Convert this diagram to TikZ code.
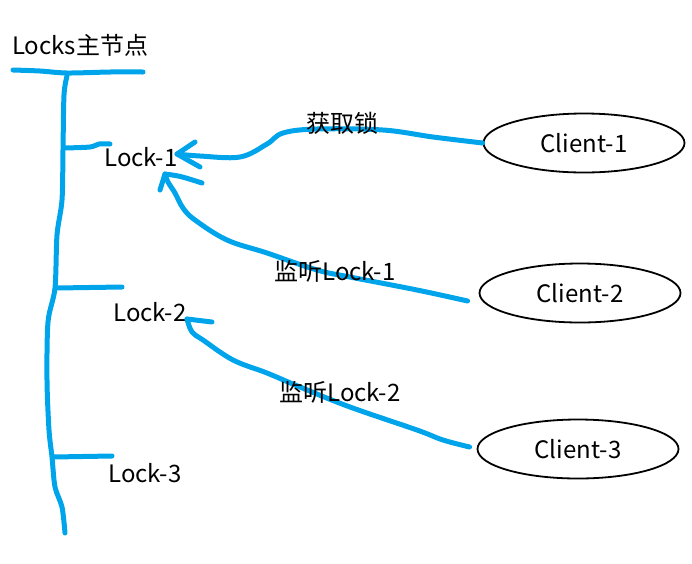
\documentclass[tikz,border=0pt]{standalone}
\usepackage{fontspec}
\setmainfont{Noto Sans CJK SC}
\usetikzlibrary{shapes.geometric}
\definecolor{inkblue}{RGB}{0,164,234}
\tikzset{
	ink/.style={draw=inkblue, line width=5pt, line cap=round, line join=round},
	client/.style={ellipse, draw, line width=1.8pt, minimum width=201pt, minimum height=59pt, inner sep=0pt, font=\fontsize{24}{28}\selectfont},
	lbl/.style={inner sep=0pt, font=\fontsize{24}{28}\selectfont}
}
\begin{document}
\begin{tikzpicture}[x=1pt, y=-1pt]
		\useasboundingbox (0,0) rectangle (692,563);
		\node[lbl] (root) at (80,45) {Locks主节点};
		\node[lbl] (lockone) at (141,157) {Lock-1};
		\node[lbl] (locktwo) at (150,312) {Lock-2};
		\node[lbl] (lockthree) at (145,473) {Lock-3};
		\node[client] (clientone) at (584,143) {Client-1};
		\node[client] (clienttwo) at (580,293) {Client-2};
		\node[client] (clientthree) at (578,449) {Client-3};
		
		\coordinate (tipone) at (177,154);
		\coordinate (tiptwo) at (165,174);
		\coordinate (tipthree) at (187,319);
		
		\draw[ink] plot[smooth] coordinates {(13,70) (40,71) (67,73) (110,72) (143,72)};
		\draw[ink] plot[smooth] coordinates {(67,76) (64,95) (63,150) (62,200) (57,235) (55,288) (48,322) (47,380) (49,430) (52,457) (55,487) (62,507) (65,533)};
		\draw[ink] plot[smooth] coordinates {(64,148) (90,147) (99,144) (110,144)};
		\draw[ink] (56,288) -- (122,287);
		\draw[ink] (53,457) -- (112,456);
		
		\draw[ink] plot[smooth, tension=0.6] coordinates {(clientone.west) (433,137) (383,130) (317,129) (283,133) (267,144) (240,157) (200,156) (tipone)};
		\draw[ink] (195,142) -- (tipone) -- (200,167);
		
		\draw[ink] plot[smooth, tension=0.6] coordinates {([shift={(-11,8)}]clienttwo.west) (417,290) (350,277) (317,270) (267,253) (227,240) (195,220) (183,208) (175,193) (168,182) (tiptwo)};
		\draw[ink] (160,190) -- (tiptwo) .. controls (180,176) .. (202,183);
		
		\draw[ink] plot[smooth, tension=0.6] coordinates {([shift={(-7,-2)}]clientthree.west) (443,440) (417,430) (350,407) (300,387) (267,373) (233,360) (203,340) (192,332) (tipthree)};
		\draw[ink] (tipthree) -- (212,322);
		
		\node[lbl] (acquire) at (342,123) {获取锁};
		\node[lbl] (watchone) at (335,271) {监听Lock-1};
		\node[lbl] (watchtwo) at (340,392) {监听Lock-2};
	\end{tikzpicture}
\end{document}
